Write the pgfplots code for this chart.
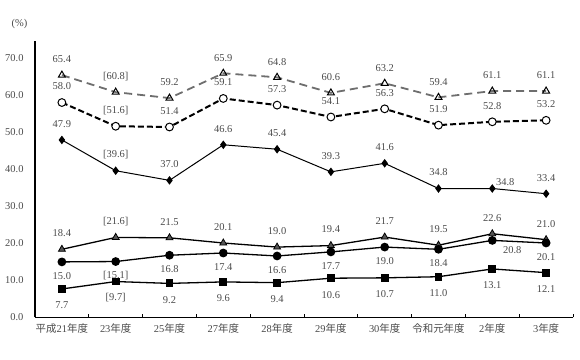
\documentclass[border=0pt]{standalone}
\usepackage{fontspec}
\setmainfont{Liberation Serif}
\newfontfamily\jp{Noto Sans CJK JP}
\usepackage{pgfplots}
\usepackage{pgfplotstable}
\pgfplotsset{compat=1.18}
\definecolor{txt}{HTML}{4A4A4A}
\definecolor{dgray}{HTML}{6E6E6E}
\definecolor{tfill}{HTML}{555555}
\pgfplotstableread{
x y lab
0 65.4 65.4
1 60.8 [60.8]
2 59.2 59.2
3 65.9 65.9
4 64.8 64.8
5 60.6 60.6
6 63.2 63.2
7 59.4 59.4
8 61.1 61.1
9 61.1 61.1
}\tA
\pgfplotstableread{
x y lab
0 58.0 58.0
1 51.6 [51.6]
2 51.4 51.4
3 59.1 59.1
4 57.3 57.3
5 54.1 54.1
6 56.3 56.3
7 51.9 51.9
8 52.8 52.8
9 53.2 53.2
}\tB
\pgfplotstableread{
x y lab
0 47.9 47.9
1 39.6 [39.6]
2 37.0 37.0
3 46.6 46.6
4 45.4 45.4
5 39.3 39.3
6 41.6 41.6
7 34.8 34.8
8 34.8 {}
9 33.4 33.4
}\tC
\pgfplotstableread{
x y lab
0 18.4 18.4
1 21.6 [21.6]
2 21.5 21.5
3 20.1 20.1
4 19.0 19.0
5 19.4 19.4
6 21.7 21.7
7 19.5 19.5
8 22.6 22.6
9 21.0 21.0
}\tD
\pgfplotstableread{
x y lab
0 15.0 15.0
1 15.1 [15.1]
2 16.8 16.8
3 17.4 17.4
4 16.6 16.6
5 17.7 17.7
6 19.0 19.0
7 18.4 18.4
8 20.8 {}
9 20.1 20.1
}\tE
\pgfplotstableread{
x y lab
0 7.7 7.7
1 9.7 [9.7]
2 9.2 9.2
3 9.6 9.6
4 9.4 9.4
5 10.6 10.6
6 10.7 10.7
7 11.0 11.0
8 13.1 13.1
9 12.1 12.1
}\tF
\begin{document}
\begin{tikzpicture}
\path[use as bounding box] (0,0) rectangle (580bp,360bp);
\node[text=txt, font=\fontsize{10.5}{12}\selectfont] at (19.5bp,336bp) {(\%)};
\begin{axis}[
  at={(35bp,42.5bp)}, anchor=south west,
  scale only axis, width=538bp, height=276.5bp,
  xmin=-0.5, xmax=9.5, ymin=0, ymax=74.6,
  axis x line*=bottom, axis y line*=left,
  axis line style={black, line width=1.1pt},
  xtick={0,...,9},
  xticklabels={{{\jp 平成}21{\jp 年度}},{23{\jp 年度}},{25{\jp 年度}},{27{\jp 年度}},{28{\jp 年度}},{29{\jp 年度}},{30{\jp 年度}},{{\jp 令和元年度}},{2{\jp 年度}},{3{\jp 年度}}},
  minor xtick={0.5,1.5,...,9.5},
  major tick length=0pt, minor tick length=3bp,
  tick style={black, line width=0.9pt},
  ytick={0,10,...,70},
  yticklabels={0.0,10.0,20.0,30.0,40.0,50.0,60.0,70.0},
  ticklabel style={text=txt, font=\fontsize{10.5}{12}\selectfont},
  yticklabel style={xshift=-8bp},
  xticklabel style={yshift=-3bp},
  clip=false,
  point meta=explicit symbolic,
  nodes near coords={\pgfplotspointmeta},
  nodes near coords style={text=txt, font=\fontsize{10.5}{12}\selectfont, anchor=center},
]
\addplot[draw=dgray, line width=1.8bp, dash pattern=on 8bp off 5bp, mark=triangle, mark size=4bp,
  mark options={solid, draw=black, fill=white, line width=1bp},
  every node near coord/.append style={yshift=15.5bp}] table[x=x,y=y,meta=lab] {\tA};
\addplot[draw=black, line width=2bp, dash pattern=on 6bp off 3bp, mark=*, mark size=3.9bp,
  mark options={solid, draw=black, fill=white, line width=1bp},
  every node near coord/.append style={yshift=16bp}] table[x=x,y=y,meta=lab] {\tB};
\addplot[draw=black, line width=1bp, mark=diamond*, mark size=3.5bp,
  mark options={solid, fill=black},
  every node near coord/.append style={yshift=16bp}] table[x=x,y=y,meta=lab] {\tC};
\addplot[draw=none, mark=none, every node near coord/.append style={xshift=13bp, yshift=6bp}]
  coordinates {(8,34.8) [34.8]};
\addplot[draw=black, line width=1.3bp, mark=triangle*, mark size=4bp,
  mark options={solid, draw=black, fill=tfill, line width=0.8bp},
  every node near coord/.append style={yshift=16bp}] table[x=x,y=y,meta=lab] {\tD};
\addplot[draw=black, line width=1.3bp, mark=*, mark size=3.7bp,
  mark options={solid, fill=black},
  every node near coord/.append style={yshift=-14bp}] table[x=x,y=y,meta=lab] {\tE};
\addplot[draw=none, mark=none, every node near coord/.append style={xshift=20bp, yshift=-10bp}]
  coordinates {(8,20.8) [20.8]};
\addplot[draw=black, line width=1.3bp, mark=square*, mark size=3.3bp,
  mark options={solid, fill=black},
  every node near coord/.append style={yshift=-16.5bp}] table[x=x,y=y,meta=lab] {\tF};
\end{axis}
\end{tikzpicture}
\end{document}
